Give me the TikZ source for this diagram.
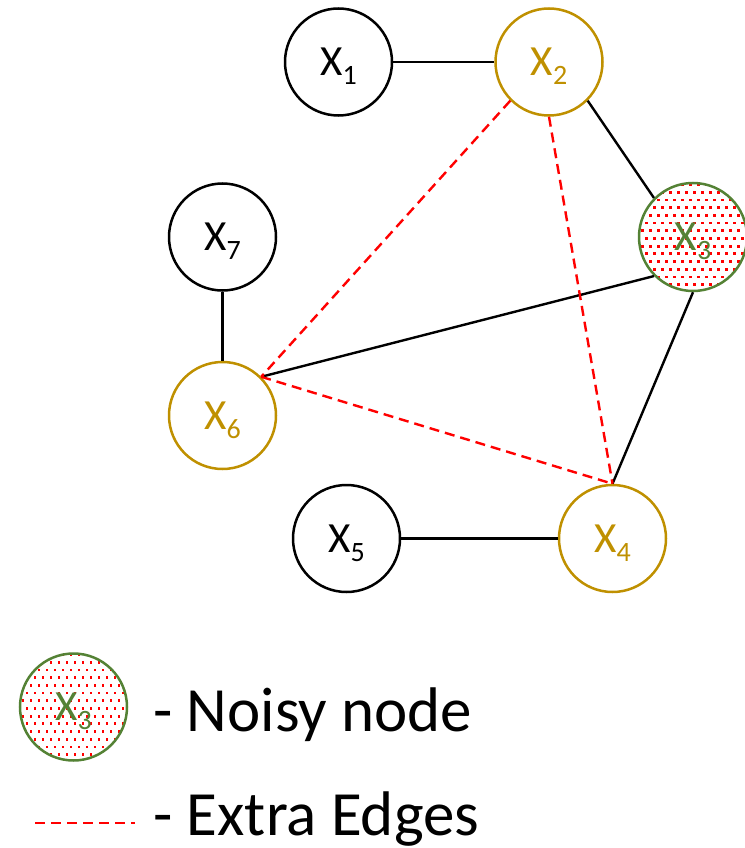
\documentclass[tikz,border=0pt]{standalone}
\usepackage{fontspec}
\setmainfont{Carlito}
\usetikzlibrary{positioning}

\definecolor{gold}{RGB}{191,144,0}
\definecolor{noisegreen}{RGB}{84,130,53}
\newcommand{\xlab}[1]{X\smash{\raisebox{-9pt}{\fontsize{28}{28}\selectfont #1}}}

\tikzset{
  var/.style={circle, draw, line width=2.5pt, minimum size=107pt, inner sep=0pt,
    font=\fontsize{43}{43}\selectfont},
  flagged/.style={var, draw=gold, text=gold},
  noisy/.style={var, draw=noisegreen, text=noisegreen, minimum size=108pt,
    path picture={
      \foreach \i in {-7,...,7}
      \foreach \j in {-7,...,7}
      \fill[red] ([xshift={\i*8pt+mod(\j,2)*4pt}, yshift={\j*7.7pt}]path picture bounding box.center)
        rectangle +(2.8,2.8);
    }},
  edge/.style={line width=2.4pt},
  extra/.style={line width=2.4pt, red, dash pattern=on 10pt off 6pt},
  legendtext/.style={inner sep=0pt, anchor=base west, font=\fontsize{63}{63}\selectfont}
}

\begin{document}
\begin{tikzpicture}[x=1pt, y=-1pt]
        \useasboundingbox (0,0) rectangle (744,848);

        % graph
        \node[var] (x1) at (338.5,62) {\xlab{1}};
        \node[flagged] (x2) at (549,62) {\xlab{2}};
        \node[noisy] (x3) at (693,237) {\xlab{3}};
        \node[var] (x7) at (222.5,237) {\xlab{7}};
        \node[flagged] (x6) at (222.5,415.5) {\xlab{6}};
        \node[var] (x5) at (346.5,538.5) {\xlab{5}};
        \node[flagged] (x4) at (612.5,538.5) {\xlab{4}};

        \draw[edge] (x1) -- (x2);
        \draw[edge] (x2.south east) -- (x3.north west);
        \draw[edge] (x3.south west) -- (x6.north east);
        \draw[edge] (x3.south) -- (x4.north);
        \draw[edge] (x7) -- (x6);
        \draw[edge] (x5) -- (x4);

        \draw[extra] (x2.south west) -- (x6.north east);
        \draw[extra] (x2.south) -- (x4.north);
        \draw[extra] (x6.north east) -- (x4.north);

        % legend
        \node[noisy, minimum size=107pt] (key) at (73.5,707) {\xlab{3}};
        \node[legendtext] (noisytxt) at (153,731) {- Noisy node};

        \coordinate (dashA) at (35,823);
        \coordinate (dashB) at (135,823);
        \draw[extra] (dashA) -- (dashB);
        \node[legendtext] (extratxt) at (153,835) {- Extra Edges};
    \end{tikzpicture}
\end{document}
